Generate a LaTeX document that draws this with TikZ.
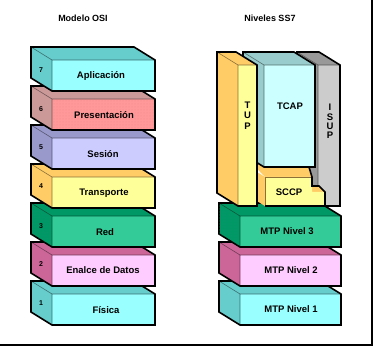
\documentclass[tikz,border=0pt]{standalone}
\usepackage{fontspec}
\setmainfont{Liberation Sans}
\usetikzlibrary{patterns}
\definecolor{cyanF}{HTML}{99FFFF}
\definecolor{cyanS}{HTML}{66CCCC}
\definecolor{roseF}{HTML}{FF9999}
\definecolor{roseS}{HTML}{CC9999}
\definecolor{roseD}{HTML}{EE8888}
\definecolor{lavF}{HTML}{CCCCFF}
\definecolor{lavS}{HTML}{9999CC}
\definecolor{yelF}{HTML}{FFFF99}
\definecolor{yelS}{HTML}{FFCC66}
\definecolor{grnF}{HTML}{33CC99}
\definecolor{grnS}{HTML}{009966}
\definecolor{grnD}{HTML}{1A8A66}
\definecolor{pnkF}{HTML}{FFCCFF}
\definecolor{pnkS}{HTML}{CC6699}
\definecolor{tcapF}{HTML}{CCFFFF}
\definecolor{tcapS}{HTML}{99CCCC}
\definecolor{grayF}{HTML}{CCCCCC}
\definecolor{grayS}{HTML}{999999}
\tikzset{
  innerln/.style={line width=0.6pt},
  outerln/.style={line width=1.6pt, line join=miter, draw=black},
  lbl/.style={font=\bfseries\fontsize{9.5}{10}\selectfont, inner sep=0pt},
  num/.style={font=\bfseries\fontsize{7}{7}\selectfont, inner sep=0pt},
  ttl/.style={font=\bfseries\fontsize{9}{10}\selectfont, inner sep=0pt}
}
% oblique box: x1,y1,x2,y2 of front face, front colour, side colour
\newcommand\obox[6]{%
  \fill[#6] (#1,#2) -- (#1-21,#2-13) -- (#3-21,#2-13) -- (#3,#2) -- cycle;
  \fill[#6] (#1,#2) -- (#1-21,#2-13) -- (#1-21,#4-13) -- (#1,#4) -- cycle;
  \fill[#5] (#1,#2) rectangle (#3,#4);
  \draw[innerln, draw=#6!55!black] (#1-21,#2-13) -- (#1,#2) -- (#3,#2) (#1,#2) -- (#1,#4);
  \draw[outerln] (#1-21,#2-13) -- (#3-21,#2-13) -- (#3,#2) -- (#3,#4) -- (#1,#4) -- (#1-21,#4-13) -- cycle;
}
\begin{document}
\begin{tikzpicture}[x=1pt,y=-1pt]
\useasboundingbox (0,0) rectangle (374,347);
\fill[white] (0,0) rectangle (374,347);
\draw[line width=2pt] (372,0) -- (372,345) -- (0,345);

% titles
\node[ttl] (t1) at (83,18) {Modelo OSI};
\node[ttl] (t2) at (270,18) {Niveles SS7};

% ---------- OSI stack ----------
\obox{52}{294}{155}{325}{cyanF}{cyanS}
\obox{52}{255}{155}{286}{pnkF}{pnkS}
\obox{52}{216}{155}{247}{grnF}{grnS}
\fill[pattern=dots, pattern color=grnD] (51,216) -- (31,204) -- (31,234) -- (51,246) -- cycle;
\obox{52}{177}{155}{208}{yelF}{yelS}
\obox{52}{138}{155}{169}{lavF}{lavS}
\obox{52}{99}{155}{130}{roseF}{roseS}
\fill[pattern=dots, pattern color=roseD] (53,100) rectangle (154,129);
\obox{52}{60}{155}{91}{cyanF}{cyanS}

\node[num] (n7) at (41,70) {7};
\node[num] (n6) at (41,109) {6};
\node[num] (n5) at (41,147) {5};
\node[num] (n4) at (41,186) {4};
\node[num] (n3) at (41,226) {3};
\node[num] (n2) at (41,264) {2};
\node[num] (n1) at (41,303) {1};

\node[lbl] (a7) at (101,76) {Aplicación};
\node[lbl] (a6) at (104,115) {Presentación};
\node[lbl] (a5) at (103,154) {Sesión};
\node[lbl] (a4) at (104,193) {Transporte};
\node[lbl] (a3) at (105,232) {Red};
\node[lbl] (a2) at (103,270) {Enalce de Datos};
\node[lbl] (a1) at (106,310) {Física};

% ---------- SS7 stack ----------
\obox{240}{294}{341}{325}{cyanF}{cyanS}
\obox{240}{255}{341}{286}{pnkF}{pnkS}
\obox{240}{216}{341}{247}{grnF}{grnS}
\fill[pattern=dots, pattern color=grnD] (239,216) -- (219,204) -- (219,234) -- (239,246) -- cycle;

% ISUP
\obox{318}{65}{340}{206}{grayF}{grayS}
% SCCP
\fill[yelS] (243,154) -- (305,154) -- (312,177) -- (265,177) -- cycle;
\fill[yelS] (265,177) -- (265,206) -- (244,193) -- (244,164) -- cycle;
\fill[yelS] (312,192) -- (325,192) -- (319,186) -- (312,186) -- cycle;
\fill[yelF] (265,177) -- (312,177) -- (312,192) -- (325,192) -- (325,206) -- (265,206) -- cycle;
\draw[innerln, draw=yelS!55!black] (265,177) -- (312,177) (265,177) -- (265,206);
\draw[outerln] (309,167) -- (312,177) -- (312,186) -- (319,186) -- (325,192) -- (325,206) -- (265,206);
% TCAP
\obox{264}{65}{315}{167}{tcapF}{tcapS}
% TUP
\obox{238}{65}{257}{206}{yelF}{yelS}

\node[lbl] (tu1) at (247.5,105) {T};
\node[lbl] (tu2) at (247.5,115.5) {U};
\node[lbl] (tu3) at (247.5,126) {P};
\node[lbl] (tc) at (290,106) {TCAP};
\node[lbl] (is1) at (330,107) {I};
\node[lbl] (is2) at (330,117) {S};
\node[lbl] (is3) at (330,126) {U};
\node[lbl] (is4) at (330,135.5) {P};
\node[lbl] (sc) at (289,192) {SCCP};
\node[lbl] (m3) at (287,231) {MTP Nivel 3};
\node[lbl] (m2) at (291,270) {MTP Nivel 2};
\node[lbl] (m1) at (291,309) {MTP Nivel 1};
\end{tikzpicture}
\end{document}
